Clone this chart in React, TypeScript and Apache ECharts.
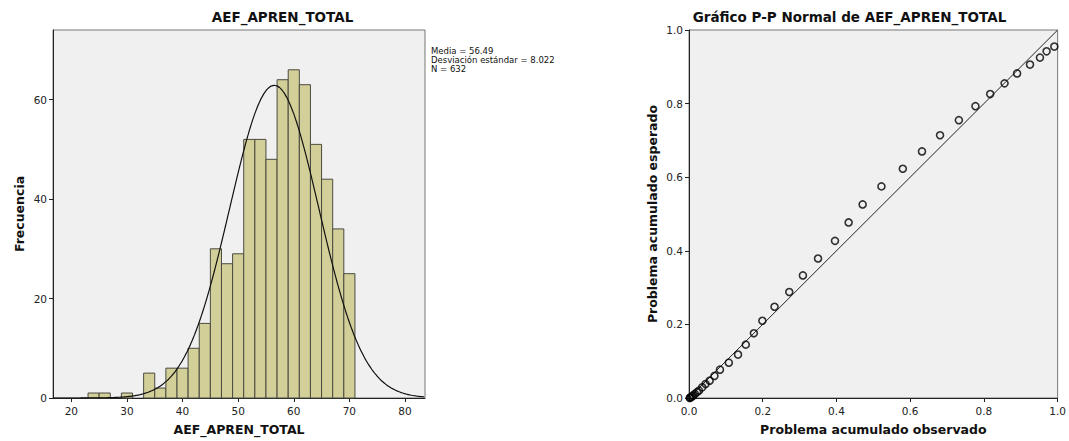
import React, { useEffect, useRef } from "react";
import * as echarts from "echarts";

// Histogram data (bin lower edges, bin width 2)
const binLower = [23, 25, 27, 29, 31, 33, 35, 37, 39, 41, 43, 45, 47, 49, 51, 53, 55, 57, 59, 61, 63, 65, 67, 69];
const counts = [1, 1, 0, 1, 0, 5, 2, 6, 6, 10, 15, 30, 27, 29, 52, 52, 48, 64, 66, 63, 51, 44, 34, 25];
const BIN_WIDTH = 2;
const MEAN = 56.49;
const SD = 8.022;
const N = 632;
const histXTicks = [20, 30, 40, 50, 60, 70, 80];
const histYTicks = [0, 20, 40, 60];

// P-P plot data
const ppObserved = [0.002, 0.003, 0.005, 0.008, 0.011, 0.016, 0.022, 0.027, 0.036, 0.045, 0.056, 0.069, 0.084, 0.108, 0.133, 0.154, 0.176, 0.199, 0.232, 0.272, 0.309, 0.35, 0.396, 0.433, 0.471, 0.522, 0.58, 0.632, 0.681, 0.732, 0.777, 0.817, 0.856, 0.89, 0.925, 0.952, 0.97, 0.991];
const ppExpected = [0.0, 0.001, 0.002, 0.004, 0.007, 0.011, 0.016, 0.02, 0.029, 0.038, 0.047, 0.06, 0.077, 0.096, 0.118, 0.145, 0.176, 0.21, 0.248, 0.288, 0.333, 0.379, 0.427, 0.477, 0.526, 0.575, 0.623, 0.67, 0.714, 0.755, 0.793, 0.826, 0.855, 0.882, 0.906, 0.925, 0.942, 0.955];

const FONT = "DejaVu Sans";

export default function App() {
  const ref = useRef<HTMLDivElement>(null);
  useEffect(() => {
    if (!ref.current) return;
    const chart = echarts.init(ref.current, null, { renderer: "svg" });

    const xMin = 16.7;
    const xMax = 83.6;
    // fitted normal curve (from stated mean/sd/N)
    const curve: number[][] = [];
    for (let x = xMin; x <= xMax + 1e-9; x += 0.25) {
      const z = (x - MEAN) / SD;
      curve.push([x, (N * BIN_WIDTH) / (SD * Math.sqrt(2 * Math.PI)) * Math.exp(-0.5 * z * z)]);
    }

    const axisLabelStyle = { color: "#222", fontSize: 10.5, fontFamily: FONT };
    const nameStyle = { fontSize: 12.5, fontWeight: "bold" as const, color: "#111", fontFamily: FONT };

    chart.setOption({
      animation: false,
      graphic: [
        { type: "text", x: 282.5, y: 17, style: { text: "AEF_APREN_TOTAL", font: `bold 13.5px '${FONT}'`, fill: "#111", align: "center", verticalAlign: "middle" } },
        { type: "text", x: 849.5, y: 17, style: { text: "Gráfico P-P Normal de AEF_APREN_TOTAL", font: `bold 13.5px '${FONT}'`, fill: "#111", align: "center", verticalAlign: "middle" } },
        { type: "text", x: 431, y: 46, style: { text: `Media = ${MEAN}\nDesviación estándar = ${SD.toFixed(3)}\nN = ${N}`, font: `8.5px '${FONT}'`, fill: "#111", lineHeight: 9 } },
      ],
      grid: [
        { left: 53, top: 30, width: 372, height: 371, show: true, backgroundColor: "#f0f0f0", borderColor: "#777", borderWidth: 1 },
        { left: 689, top: 30, width: 371.5, height: 371, show: true, backgroundColor: "#f0f0f0", borderColor: "#777", borderWidth: 1 },
      ],
      xAxis: [
        {
          type: "value", gridIndex: 0, min: xMin, max: xMax,
          splitLine: { show: false },
          axisLine: { show: true, onZero: false, lineStyle: { color: "#222", width: 1 } },
          axisTick: { show: true, length: 4, customValues: histXTicks, lineStyle: { color: "#222" } },
          axisLabel: { ...axisLabelStyle, margin: 7, customValues: histXTicks },
          name: "AEF_APREN_TOTAL", nameLocation: "middle", nameGap: 25, nameTextStyle: nameStyle,
        },
        {
          type: "value", gridIndex: 1, min: 0, max: 1, interval: 0.2,
          splitLine: { show: false },
          axisLine: { show: true, onZero: false, lineStyle: { color: "#222", width: 1 } },
          axisTick: { show: true, length: 4, lineStyle: { color: "#222" } },
          axisLabel: { ...axisLabelStyle, margin: 7, formatter: (v: number) => v.toFixed(1) },
          name: "Problema acumulado observado", nameLocation: "middle", nameGap: 25, nameTextStyle: nameStyle,
        },
      ],
      yAxis: [
        {
          type: "value", gridIndex: 0, min: 0, max: 74,
          splitLine: { show: false },
          axisLine: { show: true, onZero: false, lineStyle: { color: "#222", width: 1 } },
          axisTick: { show: true, length: 4, customValues: histYTicks, lineStyle: { color: "#222" } },
          axisLabel: { ...axisLabelStyle, margin: 6, customValues: histYTicks },
          name: "Frecuencia", nameLocation: "middle", nameGap: 27, nameTextStyle: nameStyle,
        },
        {
          type: "value", gridIndex: 1, min: 0, max: 1, interval: 0.2,
          splitLine: { show: false },
          axisLine: { show: true, onZero: false, lineStyle: { color: "#222", width: 1 } },
          axisTick: { show: true, length: 4, lineStyle: { color: "#222" } },
          axisLabel: { ...axisLabelStyle, margin: 6, formatter: (v: number) => v.toFixed(1) },
          name: "Problema acumulado esperado", nameLocation: "middle", nameGap: 30, nameTextStyle: nameStyle,
        },
      ],
      series: [
        {
          type: "custom", xAxisIndex: 0, yAxisIndex: 0,
          data: binLower.map((b, i) => [b, b + BIN_WIDTH, counts[i]]),
          renderItem: (params: any, api: any) => {
            const c = api.value(2);
            if (!c) return null;
            const p0 = api.coord([api.value(0), c]);
            const p1 = api.coord([api.value(1), 0]);
            return {
              type: "rect",
              shape: { x: p0[0], y: p0[1], width: p1[0] - p0[0], height: p1[1] - p0[1] },
              style: { fill: "#d3cf99", stroke: "#4a4a40", lineWidth: 1 },
            };
          },
          z: 2,
        },
        {
          type: "line", xAxisIndex: 0, yAxisIndex: 0, data: curve, showSymbol: false, symbol: "none",
          smooth: true, lineStyle: { color: "#111", width: 1.2 }, z: 3,
        },
        {
          type: "line", xAxisIndex: 1, yAxisIndex: 1, data: [[0, 0], [1, 1]], symbol: "none",
          lineStyle: { color: "#222", width: 1 }, z: 2,
        },
        {
          type: "scatter", xAxisIndex: 1, yAxisIndex: 1,
          data: ppObserved.map((x, i) => [x, ppExpected[i]]),
          symbol: "circle", symbolSize: 7,
          itemStyle: { color: "rgba(240,240,240,0)", borderColor: "#000", borderWidth: 1.6 },
          z: 3,
        },
      ],
    });
    return () => chart.dispose();
  }, []);
  return <div ref={ref} style={{ position: "fixed", left: 0, top: 0, width: 1069, height: 441, background: "#fff" }} />;
}
